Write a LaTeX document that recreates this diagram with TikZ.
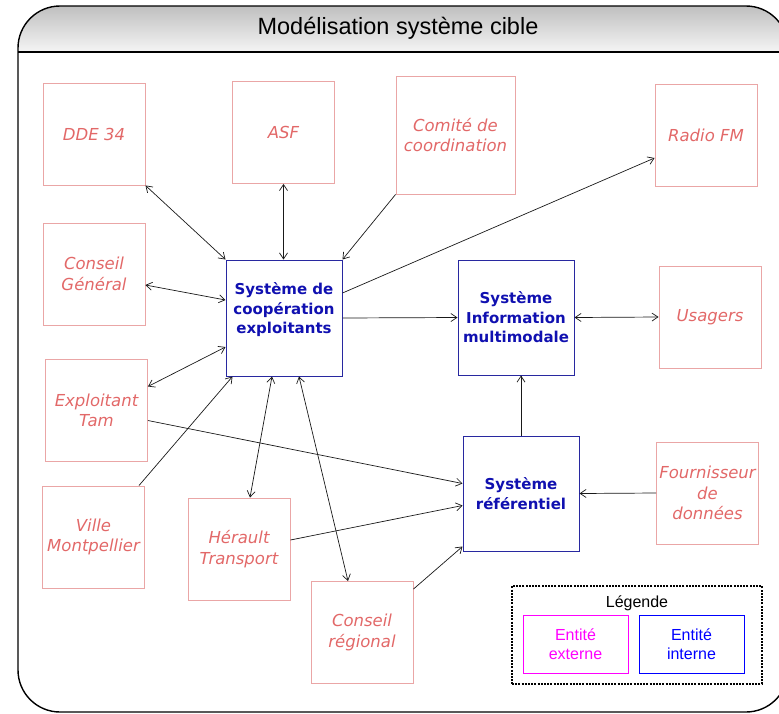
\documentclass[tikz,border=0pt]{standalone}
\usepackage{fontspec}
\setmainfont{Liberation Sans}
\newfontfamily\dejavu{DejaVu Sans}
\usetikzlibrary{arrows.meta}
\definecolor{extline}{RGB}{234,166,166}
\definecolor{exttext}{RGB}{226,104,104}
\definecolor{intline}{RGB}{40,40,160}
\definecolor{inttext}{RGB}{16,16,176}
\definecolor{legmag}{RGB}{255,0,255}
\definecolor{legblue}{RGB}{0,0,255}
\tikzset{
  externe/.style={draw=extline, line width=0.9pt, minimum width=102pt, minimum height=102pt,
    inner sep=0pt, align=center, text=exttext, font=\dejavu\itshape\fontsize{16.5}{20.5}\selectfont},
  interne/.style={draw=intline, line width=1pt, minimum width=116pt, minimum height=116pt,
    inner sep=0pt, align=center, text=inttext, font=\dejavu\bfseries\fontsize{15}{19.5}\selectfont},
  legbox/.style={line width=1pt, minimum width=105pt, minimum height=58pt, align=center,
    font=\fontsize{16}{19.5}\selectfont},
  lien/.style={draw=black!90, line width=0.7pt, >={Straight Barb[length=6pt,width=8pt]}},
}
\begin{document}
\begin{tikzpicture}[x=1pt,y=-1pt]
\clip (0,0) rectangle (779,713);
% cadre et bandeau
\begin{scope}
  \clip[rounded corners=42pt] (18,6) rectangle (788,712);
  \shade[top color=gray!50, bottom color=gray!8] (18,6) rectangle (788,52);
\end{scope}
\draw[line width=1.4pt, rounded corners=42pt] (18,6) rectangle (788,712);
\draw[line width=1.4pt] (18,52) -- (788,52);
\node[font=\fontsize{23.5}{28}\selectfont] (titre) at (398,28) {Modélisation système cible};

% entites externes
\foreach \n/\x/\y/\t in {dde/94/134/DDE 34, asf/283.5/132.5/ASF, radio/706/135/Radio FM,
    cg/94/274/{Conseil\\Général}, usagers/710/317/Usagers, tam/96.5/410.5/{Exploitant\\Tam},
    fourn/707.5/493/{Fournisseur\\de\\données}, ville/93.5/537/{Ville\\Montpellier},
    herault/239/549/{Hérault\\Transport}, creg/362/632.5/{Conseil\\régional}}
  \node[externe] (\n) at (\x,\y) {\t};
\node[externe, minimum width=119pt, minimum height=118pt] (comite) at (455.5,135) {Comité de\\coordination};

% entites internes
\node[interne] (coop) at (284,318) {Système de\\coopération\\exploitants\\\mbox{}};
\node[interne, minimum height=115pt] (info) at (516,317.5) {Système\\Information\\multimodale};
\node[interne, minimum height=115pt] (ref) at (521,493.5) {Système\\référentiel};

% liens
\draw[lien,<->] (dde.south east) -- (coop.north west);
\draw[lien,<->] (asf.south) -- (asf.south |- coop.north);
\draw[lien,->] (comite.south west) -- (coop.north east);
\draw[lien,->] ([yshift=25pt]coop.east) -- ([yshift=-23pt]radio.west);
\draw[lien,<->] ([yshift=-11pt]cg.east) -- ([yshift=18pt]coop.west);
\draw[lien,->] (coop.east) -- (info.west);
\draw[lien,<->] (info.east) -- (usagers.west);
\draw[lien,<->] ([yshift=24pt]tam.east) -- ([yshift=-29pt]coop.west);
\draw[lien,->] ([xshift=-6pt]ville.north east) -- ([xshift=7pt]coop.south west);
\draw[lien,<->] ([xshift=11pt]herault.north) -- ([xshift=-12pt]coop.south);
\draw[lien,<->] ([xshift=-14pt]creg.north) -- ([xshift=15pt]coop.south);
\draw[lien,->] ([yshift=-10pt]tam.east) -- ([yshift=10pt]ref.west);
\draw[lien,->] ([yshift=9pt]herault.east) -- ([yshift=-12pt]ref.west);
\draw[lien,->] ([yshift=-8pt]creg.north east) -- ([yshift=5pt]ref.south west);
\draw[lien,->] (ref.north) -- (ref.north |- info.south);
\draw[lien,->] (fourn.west) -- (ref.east);

% legende
\node[draw, line width=1.6pt, dash pattern=on 2pt off 1.2pt, minimum width=250pt, minimum height=98pt] (legende) at (637,635) {};
\node[font=\fontsize{16}{19.5}\selectfont] (legtitre) at (637,603) {Légende};
\node[legbox, draw=legmag, text=legmag] (legext) at (575.5,644) {Entité\\externe};
\node[legbox, draw=legblue, text=legblue] (legint) at (691.5,644) {Entité\\interne};
\end{tikzpicture}
\end{document}
